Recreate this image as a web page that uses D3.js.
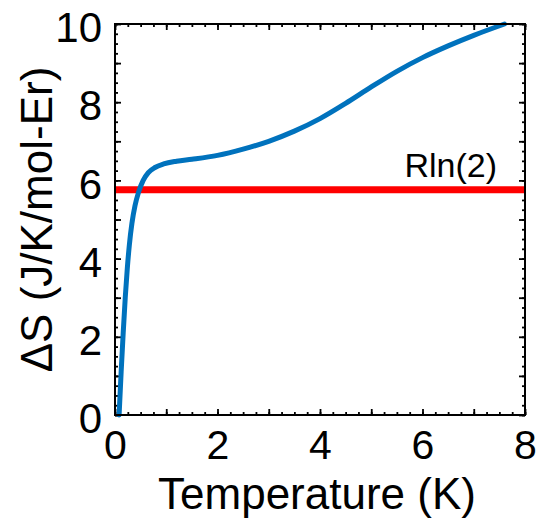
<!DOCTYPE html>
<html>
<head>
<meta charset="utf-8">
<script src="https://cdn.jsdelivr.net/npm/d3@7"></script>
<style>
  html, body { margin: 0; padding: 0; background: #fff; }
  svg { display: block; font-family: "Liberation Sans", Arial, sans-serif; }
</style>
</head>
<body>
<svg id="chart" width="537" height="520"></svg>
<script>
// Data
const temperature = [0.08, 0.12, 0.16, 0.20, 0.24, 0.28, 0.33, 0.39, 0.46, 0.55, 0.65, 0.78, 0.95, 1.20, 1.50, 2.00, 2.50, 3.00, 3.50, 4.00, 4.50, 5.00, 5.50, 6.00, 6.50, 7.00, 7.60];
const entropy     = [0.00, 1.10, 2.10, 3.00, 3.75, 4.35, 4.90, 5.35, 5.70, 6.00, 6.20, 6.33, 6.42, 6.49, 6.54, 6.64, 6.80, 7.00, 7.26, 7.58, 7.97, 8.39, 8.79, 9.14, 9.44, 9.71, 10.00];
const rln2Value = 8.314 * Math.log(2);
const rln2Label = "Rln(2)";
const xTickLabels = [0, 2, 4, 6, 8];
const yTickLabels = [0, 2, 4, 6, 8, 10];
const xTitle = "Temperature (K)";
const yTitle = "ΔS (J/K/mol-Er)";

const svg = d3.select("#chart");
const L = 115, R = 525, T = 24, B = 415;

const x = d3.scaleLinear().domain([0, 8]).range([L, R]);
const y = d3.scaleLinear().domain([0, 10]).range([B, T]);

const xMinor = d3.range(0, 8.001, 0.25);
const xMajor = d3.range(0, 8.001, 1);
const yMinor = d3.range(0, 10.001, 0.25);
const yMajor = d3.range(0, 10.001, 1);

function styleTicks(g) {
  g.select(".domain").remove();
  g.selectAll(".tick line").attr("stroke", "#000").attr("stroke-width", 1.8);
}

// Data curve
const line = d3.line()
  .x((d, i) => x(temperature[i]))
  .y((d, i) => y(entropy[i]))
  .curve(d3.curveMonotoneX);

// Ticks (inward, all four sides)
[[3, xMinor, yMinor], [6, xMajor, yMajor]].forEach(([len, xv, yv]) => {
  svg.append("g").attr("transform", `translate(0,${B})`)
    .call(d3.axisBottom(x).tickValues(xv).tickSize(-len).tickFormat(""))
    .call(styleTicks);
  svg.append("g").attr("transform", `translate(0,${T})`)
    .call(d3.axisTop(x).tickValues(xv).tickSize(-len).tickFormat(""))
    .call(styleTicks);
  svg.append("g").attr("transform", `translate(${L},0)`)
    .call(d3.axisLeft(y).tickValues(yv).tickSize(-len).tickFormat(""))
    .call(styleTicks);
  svg.append("g").attr("transform", `translate(${R},0)`)
    .call(d3.axisRight(y).tickValues(yv).tickSize(-len).tickFormat(""))
    .call(styleTicks);
});

// Rln(2) line
svg.append("line")
  .attr("x1", x(0)).attr("x2", x(8))
  .attr("y1", y(rln2Value)).attr("y2", y(rln2Value))
  .attr("stroke", "#ff0000").attr("stroke-width", 7);

svg.append("path")
  .attr("d", line(entropy))
  .attr("fill", "none")
  .attr("stroke", "#0072bd")
  .attr("stroke-width", 5)
  .attr("stroke-linecap", "round")
  .attr("stroke-linejoin", "round");

// Frame
svg.append("rect")
  .attr("x", L).attr("y", T).attr("width", R - L).attr("height", B - T)
  .attr("fill", "none").attr("stroke", "#000").attr("stroke-width", 2);

// Tick labels
const gx = svg.append("g").attr("transform", `translate(0,${B})`)
  .call(d3.axisBottom(x).tickValues(xTickLabels).tickSize(0).tickPadding(15).tickFormat(d3.format("d")));
gx.select(".domain").remove();
gx.selectAll("text").attr("font-size", 41).attr("fill", "#000").attr("font-family", "Liberation Sans, Arial, sans-serif");

const gy = svg.append("g").attr("transform", `translate(${L},0)`)
  .call(d3.axisLeft(y).tickValues(yTickLabels).tickSize(0).tickPadding(13).tickFormat(d3.format("d")));
gy.select(".domain").remove();
gy.selectAll("text").attr("font-size", 42).attr("fill", "#000").attr("dy", "0.42em").attr("font-family", "Liberation Sans, Arial, sans-serif");

// Axis titles
svg.append("text")
  .attr("x", 317).attr("y", 509)
  .attr("text-anchor", "middle")
  .attr("font-size", 44)
  .text(xTitle);

svg.append("text")
  .attr("transform", `translate(52,${(T + B) / 2}) rotate(-90)`)
  .attr("text-anchor", "middle")
  .attr("font-size", 44)
  .text(yTitle);

// Rln(2) annotation
svg.append("text")
  .attr("x", 497).attr("y", 177)
  .attr("text-anchor", "end")
  .attr("font-size", 34)
  .text(rln2Label);
</script>
</body>
</html>
